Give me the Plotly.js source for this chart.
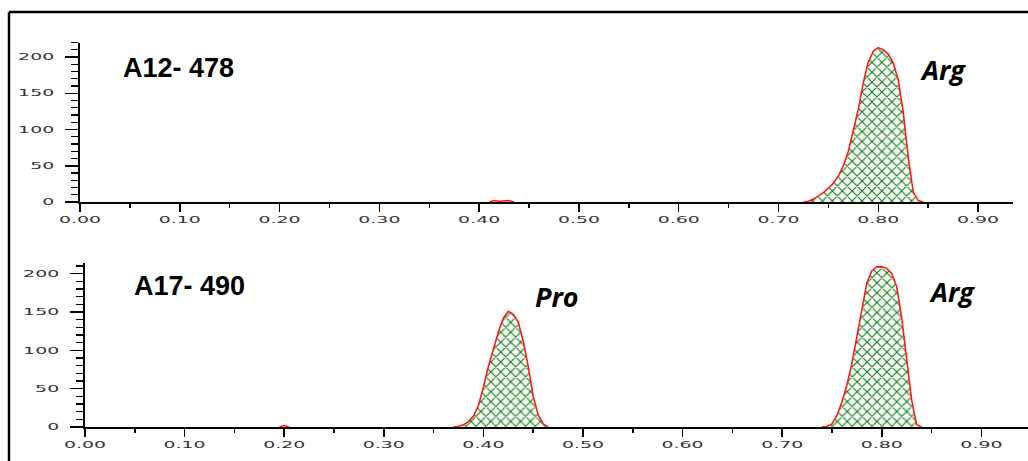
<!DOCTYPE html>
<html>
<head>
<meta charset="utf-8">
<script src="https://cdn.plot.ly/plotly-3.0.1.min.js"></script>
<style>
  html, body { margin: 0; padding: 0; background: #fff; }
  #chart { width: 1028px; height: 461px; }
</style>
</head>
<body>
<div id="chart"></div>
<script>
// Sample A12-478: Arg peak
const a12ArgX = [0.725, 0.730, 0.735, 0.740, 0.745, 0.750, 0.755, 0.760, 0.765, 0.770, 0.775, 0.780, 0.785, 0.790, 0.795, 0.800, 0.805, 0.810, 0.815, 0.820, 0.825, 0.830, 0.835, 0.840, 0.845];
const a12ArgY = [0, 1, 4, 8, 13, 19, 26, 36, 50, 70, 97, 128, 165, 193, 208, 213, 210, 204, 192, 168, 124, 62, 14, 2, 0];
// Sample A12-478: trace near 0.42
const a12MinorX = [0.410, 0.415, 0.420, 0.425, 0.430, 0.435];
const a12MinorY = [0, 2, 1, 1, 2, 0];

// Sample A17-490: Pro peak
const a17ProX = [0.370, 0.375, 0.380, 0.385, 0.390, 0.395, 0.400, 0.405, 0.410, 0.415, 0.420, 0.425, 0.430, 0.435, 0.440, 0.445, 0.450, 0.455, 0.460, 0.465];
const a17ProY = [0, 1, 3, 7, 14, 28, 52, 79, 101, 124, 142, 151, 147, 137, 112, 79, 40, 16, 4, 0];
// Sample A17-490: Arg peak
const a17ArgX = [0.740, 0.745, 0.750, 0.755, 0.760, 0.765, 0.770, 0.775, 0.780, 0.785, 0.790, 0.795, 0.800, 0.805, 0.810, 0.815, 0.820, 0.825, 0.830, 0.835, 0.840];
const a17ArgY = [0, 1, 4, 15, 33, 55, 83, 118, 153, 188, 204, 209, 209, 207, 200, 183, 142, 88, 35, 3, 0];
// Sample A17-490: trace near 0.20
const a17MinorX = [0.195, 0.200, 0.205];
const a17MinorY = [0, 2, 0];

const sampleLabels = ['A12- 478', 'A17- 490'];
const peakLabels = ['Arg', 'Pro', 'Arg'];

const W = 1028, H = 461;
const px = v => v / W;
const py = v => 1 - v / H;

const hatch = { shape: 'x', fgcolor: '#0a800a', bgcolor: '#ffffff', size: 7, solidity: 0.3 };
const redLine = { color: '#ff1a1a', width: 1.6 };

function peak(x, y, xa, ya) {
  return { x, y, xaxis: xa, yaxis: ya, type: 'scatter', mode: 'lines', line: redLine,
           fill: 'tozeroy', fillcolor: '#ffffff', fillpattern: hatch, hoverinfo: 'skip' };
}
function blip(x, y, xa, ya) {
  return { x, y, xaxis: xa, yaxis: ya, type: 'scatter', mode: 'lines', line: redLine, hoverinfo: 'skip' };
}

const data = [
  peak(a12ArgX, a12ArgY, 'x', 'y'),
  blip(a12MinorX, a12MinorY, 'x', 'y'),
  peak(a17ProX, a17ProY, 'x2', 'y2'),
  peak(a17ArgX, a17ArgY, 'x2', 'y2'),
  blip(a17MinorX, a17MinorY, 'x2', 'y2')
];

const tickFont = { family: 'DejaVu Sans', size: 9, color: '#333' };

function xAxis(domain, range, anchor) {
  return {
    domain, range, anchor, showgrid: false, zeroline: false, fixedrange: true,
    showline: true, linecolor: '#000', linewidth: 1.5,
    tick0: 0, dtick: 0.1, tickformat: '.2f', ticks: 'outside', ticklen: 8, tickwidth: 1.5, tickcolor: '#000',
    ticklabelstandoff: 1,
    minor: { dtick: 0.05, ticks: 'outside', ticklen: 4, tickwidth: 1.5, tickcolor: '#000' },
    tickfont: tickFont
  };
}
function yAxis(domain, range, anchor) {
  return {
    domain, range, anchor, showgrid: false, zeroline: false, fixedrange: true,
    showline: true, linecolor: '#000', linewidth: 2,
    tick0: 0, dtick: 50, ticks: 'outside', ticklen: 13, tickwidth: 1.5, tickcolor: '#000',
    ticklabelstandoff: 9,
    minor: { dtick: 10, ticks: 'outside', ticklen: 7, tickwidth: 1.2, tickcolor: '#000' },
    tickfont: tickFont
  };
}

const labelFont = { family: 'Liberation Sans', size: 27, color: '#000', weight: 'bold' };
const peakFont = { family: 'Open Sans', size: 27, color: '#000', weight: 'bold', style: 'italic' };

function label(x, y, text, font) {
  return { xref: 'paper', yref: 'paper', x: px(x), y: py(y), xanchor: 'center', yanchor: 'middle',
           text, showarrow: false, font };
}

const layout = {
  width: W, height: H,
  margin: { l: 0, r: 0, t: 0, b: 0 },
  paper_bgcolor: '#fff', plot_bgcolor: 'rgba(0,0,0,0)',
  showlegend: false,
  xaxis: xAxis([px(80), px(1013)], [0, 0.935], 'y'),
  yaxis: yAxis([py(202), py(42.5)], [0, 220], 'x'),
  xaxis2: xAxis([px(85), 1], [0, 0.9468], 'y2'),
  yaxis2: yAxis([py(427), py(263)], [0, 214], 'x2'),
  annotations: [
    label(178, 68, sampleLabels[0], labelFont),
    label(189, 286, sampleLabels[1], labelFont),
    label(943, 70, peakLabels[0], peakFont),
    label(557, 296, peakLabels[1], peakFont),
    label(952, 291, peakLabels[2], peakFont)
  ],
  shapes: [
    { type: 'line', xref: 'paper', yref: 'paper', x0: px(9), x1: 1, y0: py(12), y1: py(12), line: { color: '#000', width: 2.5 } },
    { type: 'line', xref: 'paper', yref: 'paper', x0: px(9), x1: px(9), y0: py(12), y1: 0, line: { color: '#000', width: 2.5 } }
  ]
};

// Widen the tick label glyphs horizontally around their anchor point
function widenTicks(gd, s) {
  gd.querySelectorAll('.xtick text, .ytick text, .x2tick text, .y2tick text').forEach(t => {
    if (t.dataset.widened) return;
    const tr = t.getAttribute('transform') || '';
    const xa = parseFloat(t.getAttribute('x') || '0');
    t.setAttribute('transform', `${tr} translate(${xa},0) scale(${s},1) translate(${-xa},0)`);
    t.dataset.widened = '1';
  });
}

Plotly.newPlot('chart', data, layout, { staticPlot: true, displayModeBar: false })
  .then(gd => widenTicks(gd, 2.1));
</script>
</body>
</html>
